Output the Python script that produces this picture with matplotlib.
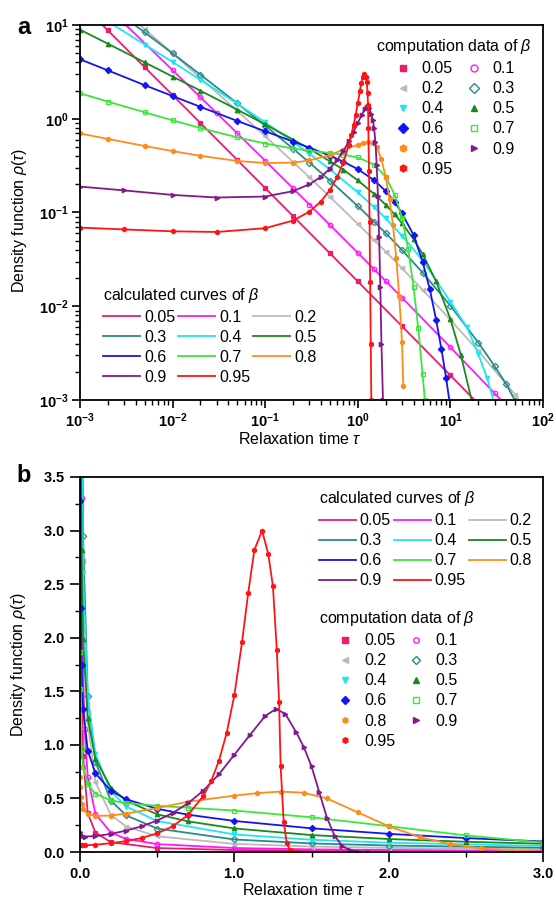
"""
Relaxation-time density functions rho(tau) for several beta values.
Panel a: log-log view, panel b: linear view of the same series.
"""

import matplotlib
matplotlib.use("Agg")  # headless
import matplotlib.pyplot as plt
import numpy as np
from matplotlib.lines import Line2D
from matplotlib.ticker import FuncFormatter, MultipleLocator

plt.rcParams["font.family"] = ["Liberation Sans", "DejaVu Sans"]
plt.rcParams["mathtext.fontset"] = "custom"
plt.rcParams["mathtext.rm"] = "Liberation Sans"
plt.rcParams["mathtext.it"] = "Liberation Sans:italic"
plt.rcParams["mathtext.bf"] = "Liberation Sans:bold"


# --- values -----------------------------------------------------------------

tau_005 = [0.001, 0.002, 0.005, 0.01, 0.02, 0.05, 0.1, 0.2, 0.5, 1.0, 3.0, 10.0, 20.0]
rho_005 = [17.3, 8.75, 3.54, 1.787, 0.899, 0.363, 0.182, 0.0915, 0.0367, 0.0184, 0.00612, 0.00183, 0.00091]

tau_01 = [0.001, 0.003, 0.01, 0.02, 0.03, 0.05, 0.1, 0.2, 0.3, 0.5, 1.0, 1.5, 2.0, 3.0, 10.0, 30.0, 40.0]
rho_01 = [29.5, 10.4, 3.30, 1.693, 1.146, 0.699, 0.3565, 0.1811, 0.1217, 0.0736, 0.0372, 0.0248, 0.0186, 0.01236,
          0.00365, 0.00118, 0.00088]

tau_02 = [0.001, 0.002, 0.005, 0.01, 0.02, 0.05, 0.1, 0.2, 0.3, 0.5, 1.0, 1.5, 2.0, 3.0, 5.0, 10.0, 20.0, 50.0, 56.0]
rho_02 = [35.4, 19.7, 9.04, 4.98, 2.72, 1.213, 0.651, 0.3455, 0.2375, 0.147, 0.0756, 0.0509, 0.0383, 0.0254,
          0.0150, 0.00717, 0.00334, 0.00114, 0.00098]

tau_03 = [0.001, 0.002, 0.005, 0.01, 0.02, 0.05, 0.1, 0.2, 0.3, 0.5, 1.0, 1.5, 2.0, 3.0, 5.0, 10.0, 20.0, 30.0,
          40.0, 50.0]
rho_03 = [27.0, 16.3, 8.33, 4.98, 2.95, 1.458, 0.843, 0.479, 0.341, 0.219, 0.117, 0.0798, 0.0604, 0.0398, 0.0229,
          0.01015, 0.0041, 0.0023, 0.00148, 0.00098]

tau_04 = [0.001, 0.002, 0.005, 0.01, 0.02, 0.05, 0.1, 0.2, 0.3, 0.5, 1.0, 1.5, 2.0, 3.0, 5.0, 10.0, 15.0, 20.0,
          25.0, 30.0]
rho_04 = [16.6, 10.9, 6.19, 4.03, 2.60, 1.446, 0.914, 0.566, 0.424, 0.289, 0.164, 0.1142, 0.0866, 0.0567, 0.0309,
          0.0112, 0.0060, 0.0031, 0.0017, 0.0009]

tau_05 = [0.001, 0.002, 0.005, 0.01, 0.02, 0.05, 0.1, 0.2, 0.3, 0.5, 0.7, 1.0, 1.5, 2.0, 2.5, 3.0, 4.0, 5.0, 7.0,
          10.0, 13.0, 17.0]
rho_05 = [8.92, 6.31, 3.99, 2.82, 1.99, 1.25, 0.870, 0.600, 0.478, 0.352, 0.286, 0.220, 0.158, 0.121, 0.0955,
          0.0769, 0.0519, 0.0361, 0.0185, 0.0073, 0.0030, 0.00098]

tau_06 = [0.001, 0.002, 0.005, 0.01, 0.02, 0.05, 0.1, 0.2, 0.3, 0.5, 0.7, 1.0, 1.5, 2.0, 2.5, 3.0, 4.0, 5.0, 6.0,
          7.0, 8.0, 9.0, 9.8]
rho_06 = [4.31, 3.28, 2.28, 1.747, 1.338, 0.947, 0.735, 0.571, 0.492, 0.4035, 0.348, 0.290, 0.221, 0.1695, 0.130,
          0.098, 0.0575, 0.030, 0.0151, 0.0072, 0.0035, 0.0017, 0.00095]

tau_07 = [0.001, 0.002, 0.005, 0.01, 0.02, 0.05, 0.1, 0.2, 0.3, 0.5, 0.7, 1.0, 1.5, 2.0, 2.5, 3.0, 3.5, 4.0, 4.5,
          5.0, 5.3]
rho_07 = [1.87, 1.525, 1.170, 0.962, 0.796, 0.633, 0.544, 0.481, 0.456, 0.431, 0.413, 0.387, 0.324, 0.241, 0.155,
          0.088, 0.041, 0.016, 0.0058, 0.0019, 0.0010]

tau_08 = [0.001, 0.002, 0.005, 0.01, 0.02, 0.05, 0.1, 0.2, 0.3, 0.5, 0.7, 1.0, 1.15, 1.3, 1.45, 1.6, 1.8, 2.0,
          2.2, 2.4, 2.6, 2.8, 3.0, 3.1]
rho_08 = [0.697, 0.609, 0.512, 0.452, 0.402, 0.355, 0.337, 0.340, 0.359, 0.410, 0.469, 0.526, 0.550, 0.564, 0.553,
          0.500, 0.370, 0.240, 0.140, 0.073, 0.033, 0.013, 0.0042, 0.0014]

tau_09 = [0.001, 0.003, 0.01, 0.03, 0.1, 0.2, 0.3, 0.4, 0.5, 0.6, 0.7, 0.8, 0.9, 1.0, 1.1, 1.2, 1.27, 1.33, 1.4,
          1.45, 1.5, 1.55, 1.6, 1.65, 1.7, 1.75, 1.8, 1.87]
rho_09 = [0.189, 0.172, 0.154, 0.1445, 0.148, 0.169, 0.200, 0.240, 0.294, 0.364, 0.455, 0.574, 0.725, 0.908, 1.09,
          1.27, 1.335, 1.29, 1.12, 0.98, 0.80, 0.56, 0.32, 0.15, 0.055, 0.016, 0.004, 0.001]

tau_095 = [0.001, 0.003, 0.01, 0.03, 0.1, 0.2, 0.3, 0.4, 0.5, 0.6, 0.7, 0.8, 0.85, 0.9, 0.95, 1.0, 1.05, 1.09,
           1.13, 1.18, 1.22, 1.25, 1.275, 1.29, 1.30, 1.32, 1.34, 1.36, 1.38, 1.40]
rho_095 = [0.069, 0.066, 0.063, 0.062, 0.068, 0.082, 0.102, 0.131, 0.174, 0.239, 0.345, 0.525, 0.663, 0.851,
           1.109, 1.463, 1.96, 2.42, 2.82, 3.0, 2.78, 2.48, 1.89, 1.40, 0.80, 0.28, 0.08, 0.018, 0.004, 0.001]

BETA_LABELS = ["0.05", "0.1", "0.2", "0.3", "0.4", "0.5", "0.6", "0.7", "0.8", "0.9", "0.95"]


# --- styling ------------------------------------------------------------------

TAUS = [tau_005, tau_01, tau_02, tau_03, tau_04, tau_05, tau_06, tau_07, tau_08, tau_09, tau_095]
RHOS = [rho_005, rho_01, rho_02, rho_03, rho_04, rho_05, rho_06, rho_07, rho_08, rho_09, rho_095]
COLORS = ["#EC1C6C", "#FF19FF", "#BBBBBB", "#2A8A8A", "#1EE6F0", "#1A8A1A",
          "#1414F0", "#3CE63C", "#FF8C1A", "#82198C", "#FF1414"]
MARKERS = ["s", "o", "<", "D", "v", "^", "D", "s", "h", ">", "h"]
FILLED = [True, False, True, False, True, True, True, False, True, True, True]

# legend orders (matplotlib fills legend columns top-down)
CURVE_ORDER = [0, 3, 6, 9, 1, 4, 7, 10, 2, 5, 8]   # 3 columns
DATA_ORDER = [0, 2, 4, 6, 8, 10, 1, 3, 5, 7, 9]    # 2 columns

FS = 11.5
BETA_SYM = r"$\beta$"


def draw_series(ax):
    for tau, rho, c, m, filled in zip(TAUS, RHOS, COLORS, MARKERS, FILLED):
        ax.plot(tau, rho, color=c, lw=1.3, marker=m, ms=3.2,
                mfc=c if filled else "none", mec=c, mew=0.9)


def curve_legend(ax, loc, anchor):
    handles = [Line2D([], [], color=COLORS[i], lw=1.3) for i in CURVE_ORDER]
    labels = [BETA_LABELS[i] for i in CURVE_ORDER]
    leg = ax.legend(handles, labels, title="calculated curves of " + BETA_SYM,
                    loc=loc, bbox_to_anchor=anchor, ncol=3, frameon=False,
                    fontsize=FS, title_fontsize=FS, borderpad=0, borderaxespad=0,
                    handlelength=2.3, handletextpad=0.25, columnspacing=0.2,
                    labelspacing=0.32, alignment="left")
    return leg


def data_legend(ax, loc, anchor, ms):
    handles = [Line2D([], [], ls="none", marker=MARKERS[i], ms=ms, color=COLORS[i],
                      mfc=COLORS[i] if FILLED[i] else "none", mew=1.0)
               for i in DATA_ORDER]
    labels = [BETA_LABELS[i] for i in DATA_ORDER]
    leg = ax.legend(handles, labels, title="computation data of " + BETA_SYM,
                    loc=loc, bbox_to_anchor=anchor, ncol=2, frameon=False,
                    fontsize=FS, title_fontsize=FS, borderpad=0, borderaxespad=0,
                    handlelength=1.2, handletextpad=0.6, columnspacing=0.7,
                    labelspacing=0.32, alignment="center")
    return leg


def style_axes(ax, length, pad):
    for s in ax.spines.values():
        s.set_linewidth(1.3)
    ax.tick_params(which="major", direction="out", length=length, width=1.2, pad=pad,
                   labelsize=10.5, top=False, right=False)
    ax.tick_params(which="minor", direction="out", length=3.5, width=1.0,
                   top=False, right=False)


fig = plt.figure(figsize=(5.56, 9.0), dpi=100)
W, H = 556.0, 900.0
ax_a = fig.add_axes([80 / W, 1 - 400 / H, 463 / W, 375 / H])
ax_b = fig.add_axes([80 / W, 1 - 852 / H, 463 / W, 375 / H])

# --- panel a: log-log -----------------------------------------------------------
draw_series(ax_a)
ax_a.set_xscale("log")
ax_a.set_yscale("log")
ax_a.set_xlim(1e-3, 1e2)
ax_a.set_ylim(1e-3, 1e1)
pow10 = FuncFormatter(lambda v, p: r"$\mathbf{10^{%d}}$" % int(round(np.log10(v))))
ax_a.xaxis.set_major_formatter(pow10)
ax_a.yaxis.set_major_formatter(pow10)
style_axes(ax_a, 6, 2.0)
ax_a.set_xlabel(r"Relaxation time $\tau$", fontsize=FS)
ax_a.set_ylabel(r"Density function $\rho(\tau)$", fontsize=FS)
ax_a.xaxis.set_label_coords(0.474, -0.082)
ax_a.yaxis.set_label_coords(-0.11, 0.48)

leg_a1 = data_legend(ax_a, "upper right", (0.976, 0.968), ms=5)
ax_a.add_artist(leg_a1)
curve_legend(ax_a, "lower left", (0.05, 0.04))

# --- panel b: linear ---------------------------------------------------------------
draw_series(ax_b)
ax_b.set_xlim(0, 3.0)
ax_b.set_ylim(0, 3.5)
ax_b.xaxis.set_major_locator(MultipleLocator(1.0))
ax_b.xaxis.set_minor_locator(MultipleLocator(0.5))
ax_b.yaxis.set_major_locator(MultipleLocator(0.5))
ax_b.yaxis.set_minor_locator(MultipleLocator(0.25))
one_dec = FuncFormatter(lambda v, p: r"$\mathbf{%.1f}$" % v)
ax_b.xaxis.set_major_formatter(one_dec)
ax_b.yaxis.set_major_formatter(one_dec)
style_axes(ax_b, 7, 4)
ax_b.set_xlabel(r"Relaxation time $\tau$", fontsize=FS)
ax_b.set_ylabel(r"Density function $\rho(\tau)$", fontsize=FS)
ax_b.xaxis.set_label_coords(0.484, -0.08)
ax_b.yaxis.set_label_coords(-0.112, 0.5)

leg_b1 = curve_legend(ax_b, "upper left", (0.516, 0.968))
ax_b.add_artist(leg_b1)
data_legend(ax_b, "upper left", (0.516, 0.648), ms=4)

fig.text(24 / W, 1 - 27 / H, "a", fontsize=17, fontweight="bold", ha="center", va="center")
fig.text(24 / W, 1 - 476 / H, "b", fontsize=17, fontweight="bold", ha="center", va="center")

fig.savefig("out.png", dpi=100)
